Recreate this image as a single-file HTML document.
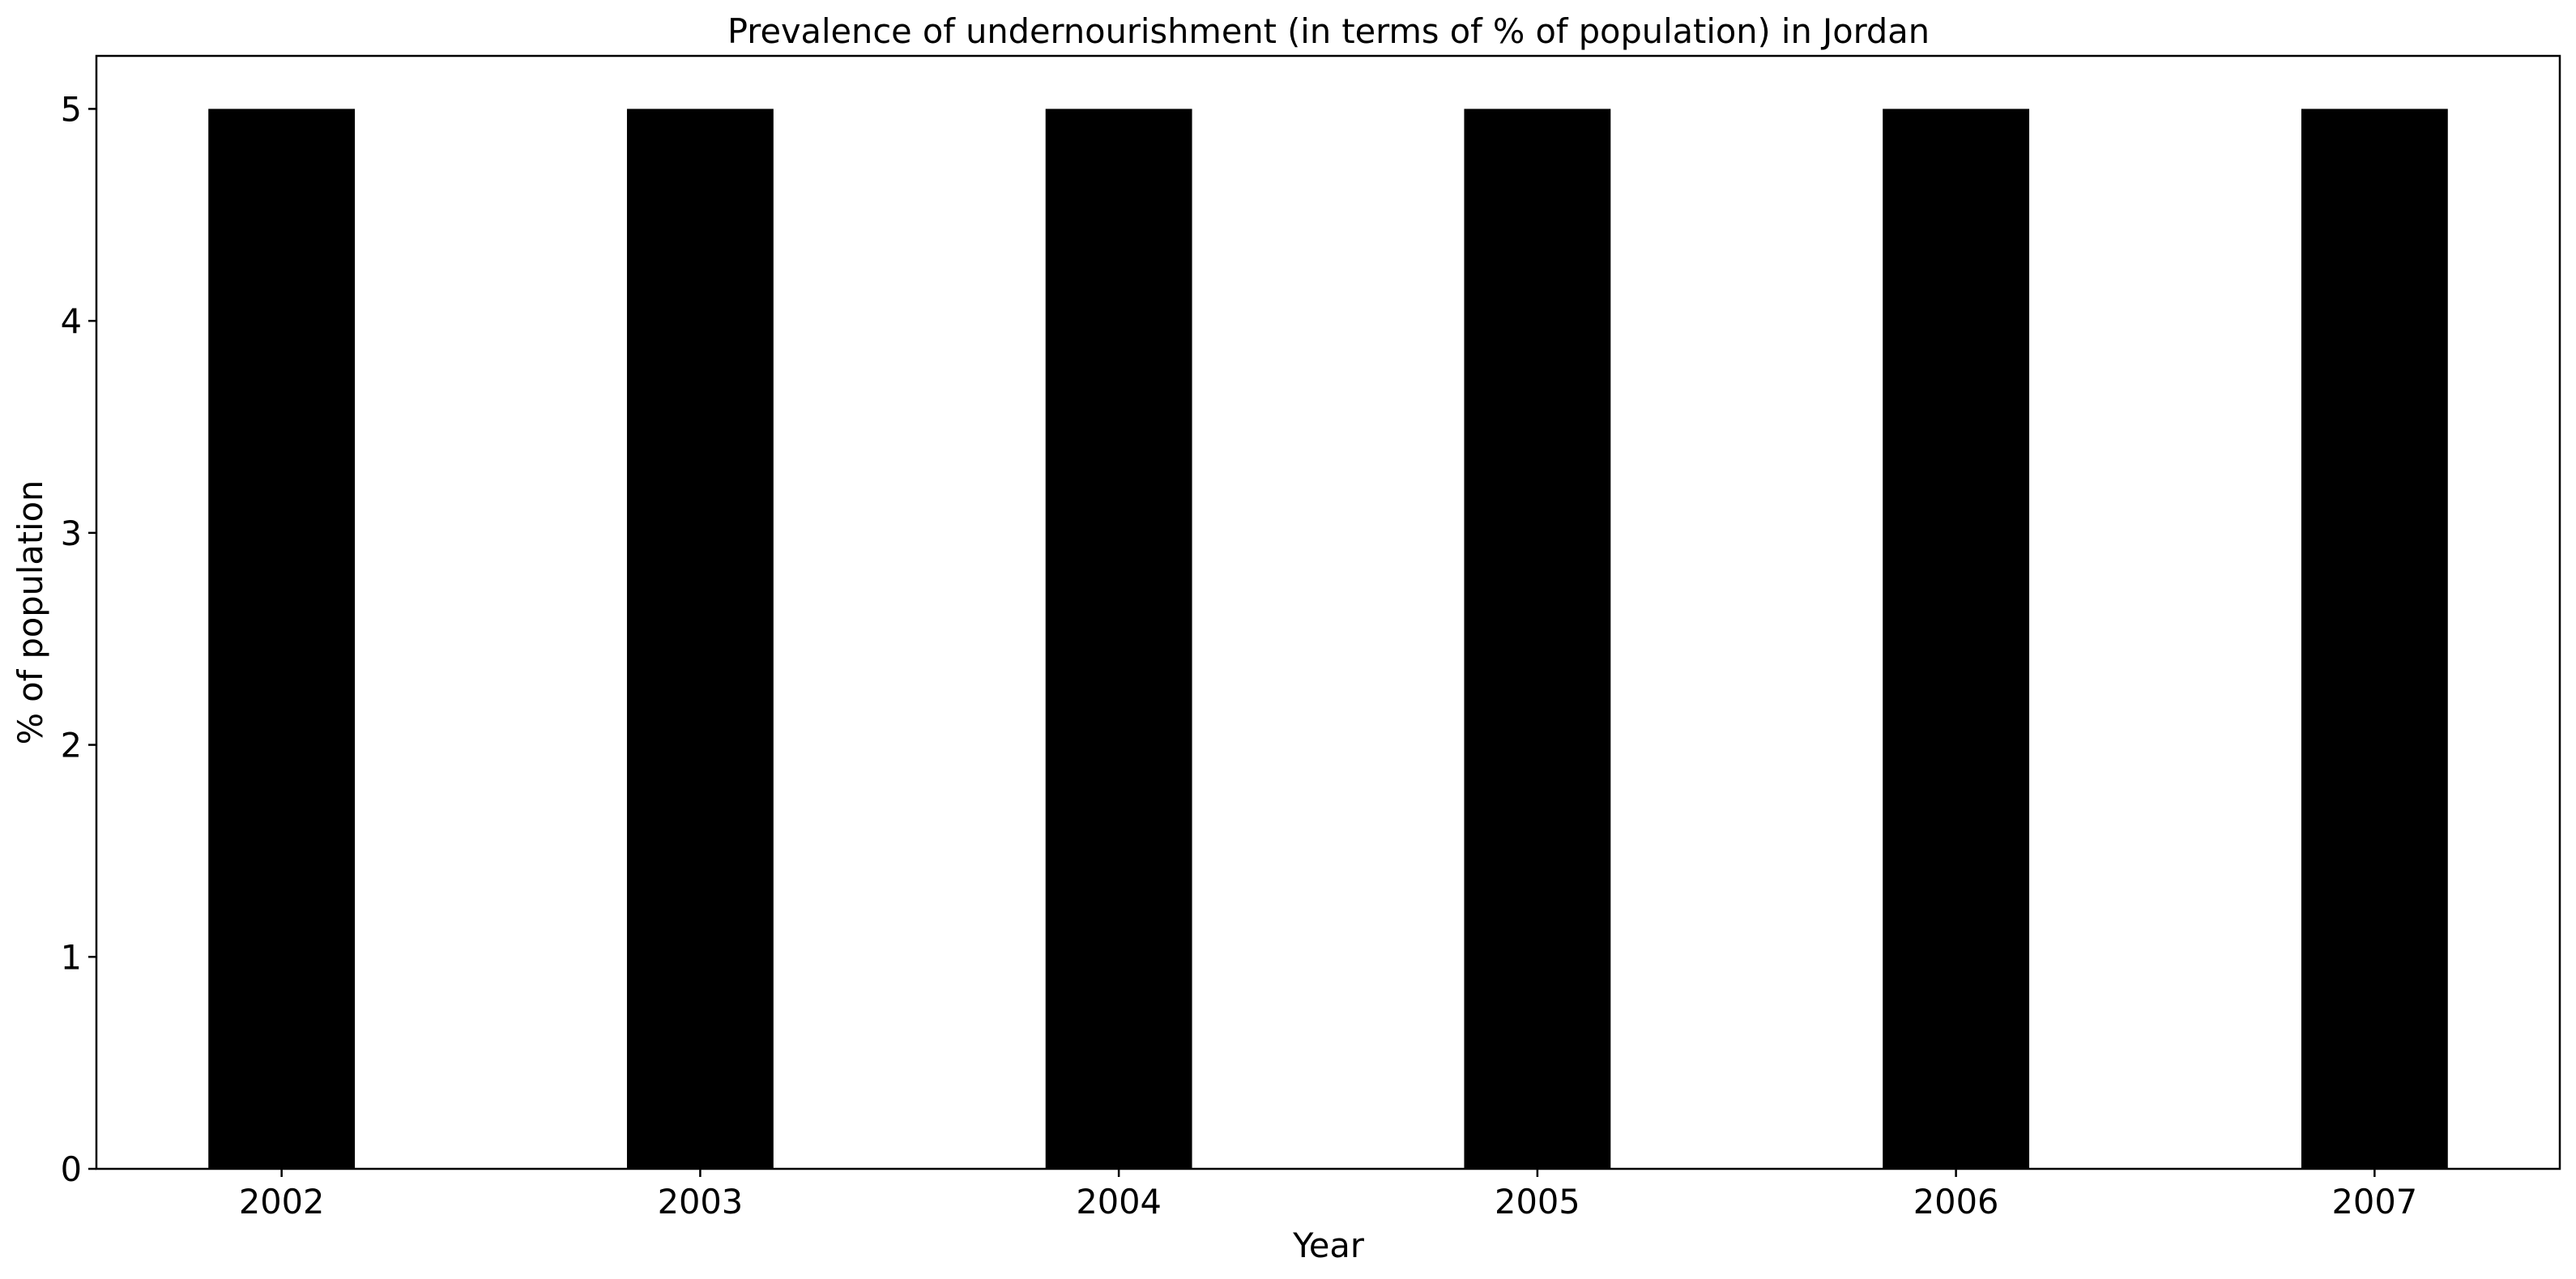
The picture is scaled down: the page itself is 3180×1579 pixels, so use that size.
<!DOCTYPE html>
<html><head><meta charset="utf-8"><style>
html,body{margin:0;padding:0;background:#fff;}
svg{display:block;font-family:"DejaVu Sans","Liberation Sans",sans-serif;}
</style></head><body>
<svg id="chart" width="3180" height="1579" viewBox="0 0 3180 1579">
<text x="1640" y="53" font-size="41.5" text-anchor="middle">Prevalence of undernourishment (in terms of % of population) in Jordan</text>
<text x="1640" y="1552" font-size="41.5" text-anchor="middle">Year</text>
<text transform="translate(52,756) rotate(-90)" font-size="41.5" text-anchor="middle">% of population</text>
<g id="bars"></g>
<g id="axes"></g>
</svg>
<script>
const categories = ["2002","2003","2004","2005","2006","2007"];
const values = [5,5,5,5,5,5];
const yTicks = [0,1,2,3,4,5];
const NS="http://www.w3.org/2000/svg";
const L=119,R=3160,T=69,B=1443;
const xmin=-0.4425,xmax=categories.length-1+0.4425,ymin=0,ymax=5.25;
function xs(i){return L+(i-xmin)/(xmax-xmin)*(R-L);}
function ys(v){return B-(v-ymin)/(ymax-ymin)*(B-T);}
const bw=0.35*(xs(1)-xs(0));
const bars=document.getElementById('bars');
const axes=document.getElementById('axes');
function mk(t,a,p){const e=document.createElementNS(NS,t);for(const k in a)e.setAttribute(k,a[k]);p.appendChild(e);return e;}
values.forEach((v,i)=>{
  const r=mk('rect',{x:xs(i)-bw/2,y:ys(v),width:bw,height:ys(0)-ys(v),fill:'#000'},bars);
  
  
});
const frame=mk('rect',{x:L,y:T,width:R-L,height:B-T,fill:'none',stroke:'#000','stroke-width':2.5},axes);


yTicks.forEach(v=>{
  const y=ys(v);
  const tk=mk('line',{x1:L-10,x2:L,y1:y,y2:y,stroke:'#000','stroke-width':2.5},axes);
  
  
  const t=mk('text',{x:L-18,y:y+15,'font-size':41.5,'text-anchor':'end'},axes);
  t.textContent=v;
  
  
});
categories.forEach((c,i)=>{
  const x=xs(i);
  const tk=mk('line',{x1:x,x2:x,y1:B,y2:B+10,stroke:'#000','stroke-width':2.5},axes);
  
  
  const t=mk('text',{x:x,y:B+55,'font-size':41.5,'text-anchor':'middle'},axes);
  t.textContent=c;
  
  
});
</script>
</body></html>
